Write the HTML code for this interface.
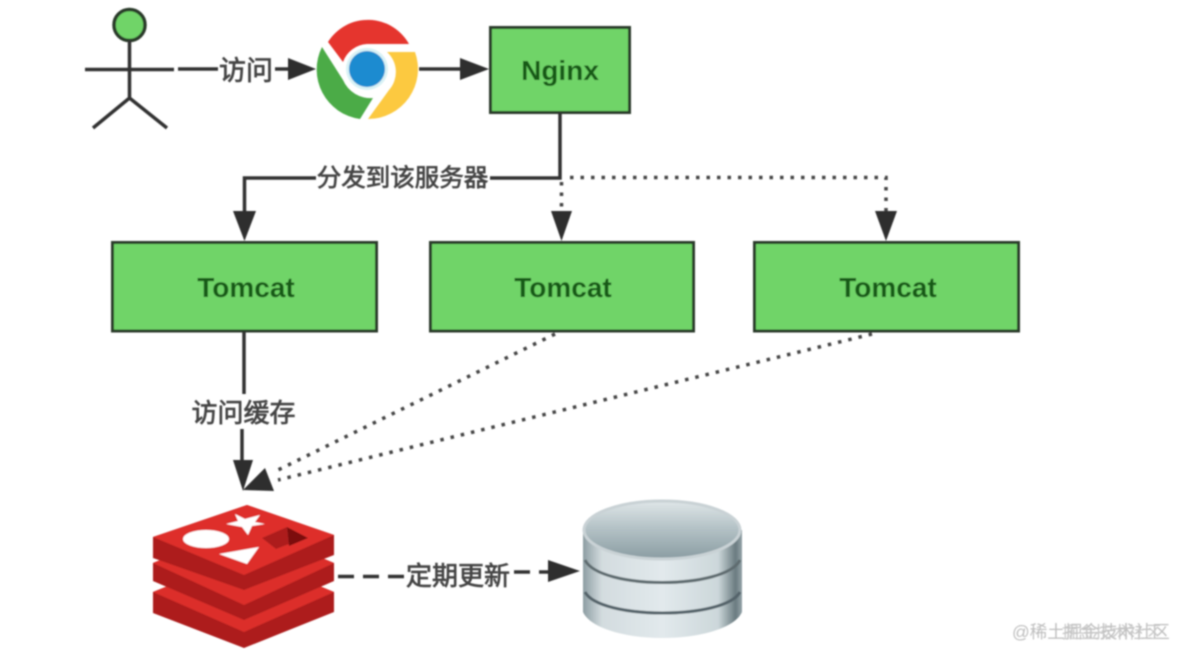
<!DOCTYPE html>
<html><head><meta charset="utf-8">
<style>
html,body{margin:0;padding:0;background:#fff;width:1178px;height:649px;overflow:hidden}
svg{display:block}
text{font-family:"Liberation Sans","Noto Sans CJK SC",sans-serif}
.box{fill:#6fd468;stroke:#2a3a2a;stroke-width:3}
.ln{fill:none;stroke:#333;stroke-width:3.5}
.dot{fill:none;stroke:#444;stroke-width:3.5;stroke-dasharray:3.5 7}
.ah{fill:#2d2d2d}
.lb{font-size:26px;fill:#444;stroke:#444;stroke-width:.7;text-anchor:middle}
.bt{font-size:28px;font-weight:bold;fill:#175a17;text-anchor:middle}
</style></head><body>
<svg width="1178" height="649" viewBox="0 0 1178 649" xmlns="http://www.w3.org/2000/svg">
<defs>
<filter id="b" x="-5%" y="-5%" width="110%" height="110%"><feGaussianBlur stdDeviation="0.9"/></filter>
<linearGradient id="dbTop" x1="0" y1="0" x2="0" y2="1"><stop offset="0" stop-color="#dfe6e8"/><stop offset=".45" stop-color="#b5c3c7"/><stop offset="1" stop-color="#8a9ca2"/></linearGradient>
<linearGradient id="dbSide" x1="0" y1="0" x2="1" y2="0"><stop offset="0" stop-color="#8d9da2"/><stop offset=".12" stop-color="#d3dcdf"/><stop offset=".5" stop-color="#e2e9ec"/><stop offset=".85" stop-color="#ccd7da"/><stop offset=".96" stop-color="#6a7b80"/><stop offset="1" stop-color="#93a3a8"/></linearGradient>
</defs>
<g filter="url(#b)">
<!-- actor -->
<circle cx="129.500" cy="25" r="15.500" fill="#6fd468" stroke="#2a3a2a" stroke-width="3.500"/>
<path class="ln" d="M129.500 41V98M85 69.500H174M93 128L129.500 98L167 128"/>
<!-- access arrow -->
<path class="ln" d="M178 69H218M275 69H290"/>
<path class="ah" d="M316 69L288 58V80Z"/>
<text class="lb" x="246" y="80" style="font-size:27px">访问</text>
<!-- chrome -->
<path d="M328 42A47 47 0 0 1 409 44L367 44A27 27 0 0 0 343 62Z" fill="#e5352f"/>
<path d="M322 47A50 50 0 0 0 360 119L373 98A30 30 0 0 1 343 80Z" fill="#4cab47"/>
<path d="M387 52H415A50 50 0 0 1 368 119L389 90A27 27 0 0 0 387 52Z" fill="#fcc93f"/>
<circle cx="367" cy="69" r="21" fill="#d9f2f5"/>
<circle cx="367" cy="69" r="18" fill="#1c8bd0"/>
<!-- chrome to nginx -->
<path class="ln" d="M419 69H462"/>
<path class="ah" d="M489 69L460 58V80Z"/>
<rect class="box" x="490.500" y="27.500" width="139" height="85"/>
<text class="bt" x="560" y="80">Nginx</text>
<!-- nginx down -->
<path class="ln" d="M560 113V178H490M316 178H244.500V212"/>
<path class="ah" d="M244.500 241L233 211H256Z"/>
<text class="lb" x="402.500" y="186" style="font-size:24.500px">分发到该服务器</text>
<path class="dot" d="M561.500 182V212"/>
<path class="ah" d="M561.500 241L551 211H572Z"/>
<path class="dot" d="M570 177.500H886V212"/>
<path class="ah" d="M886 241L875 211H897Z"/>
<!-- tomcats -->
<rect class="box" x="112.500" y="242.500" width="264" height="88.500"/>
<rect class="box" x="430.500" y="242.500" width="263" height="88.500"/>
<rect class="box" x="754.500" y="242.500" width="264" height="88.500"/>
<text class="bt" x="246" y="297">Tomcat</text>
<text class="bt" x="563" y="297">Tomcat</text>
<text class="bt" x="888" y="297">Tomcat</text>
<!-- to redis -->
<path class="ln" d="M244 332V394M242 429V462"/>
<path class="ah" d="M243 491L233 460H253Z"/>
<text class="lb" x="243.500" y="422">访问缓存</text>
<path class="dot" d="M555 334L276 471"/>
<path class="dot" d="M872 334L278 480"/>
<path class="ah" d="M243 490L265 468L274 491Z"/>
<!-- redis -->
<path d="M153 592L244 555L334 592V612L244 648L153 613Z" fill="#ad1c1c"/>
<path d="M153 592L244 555L334 592L244 632Z" fill="#dc2e2a"/>
<path d="M153 563L244 525L334 563V581L244 620L153 581Z" fill="#ad1c1c"/>
<path d="M153 563L244 525L334 563L244 605Z" fill="#dc2e2a"/>
<path d="M153 537L247 505L334 535V555L244 590L153 558Z" fill="#ad1c1c"/>
<path d="M153 537L247 505L334 535L244 575Z" fill="#de2f2b"/>
<ellipse cx="206" cy="539" rx="23" ry="9" fill="#fff"/>
<path d="M235 514L245 519L260 515L255 522L265 524L252 526L248 535L242 527L226 524L238 521Z" fill="#fff"/>
<path d="M219 554L259 547L247 564Z" fill="#fff"/>
<path d="M262 538L287 527L289 544L276 549Z" fill="#ad1f1f"/>
<path d="M287 527L308 538L289 546Z" fill="#7c0f0f"/>
<!-- dash arrow -->
<path class="ln" d="M338 576.500H406M514 572H552" stroke-dasharray="16 9"/>
<path class="ah" d="M580 571L548 560V582Z"/>
<text class="lb" x="458" y="585">定期更新</text>
<!-- db -->
<path d="M583 530V612C590 628 625 638 662 638C700 638 735 628 742 612V530Z" fill="url(#dbSide)"/>
<ellipse cx="662" cy="530" rx="78" ry="29" fill="url(#dbTop)" stroke="#c9d2d5" stroke-width="3"/>
<path d="M585 560C600 590 725 590 740 560" fill="none" stroke="#5e6c70" stroke-width="3"/>
<path d="M585 592C600 620 725 620 740 592" fill="none" stroke="#55646a" stroke-width="3"/>
<!-- watermark -->
<text x="1012" y="638" font-size="17.500" fill="#bdbdbd">@稀土掘金技术社区</text>
<text x="1062" y="638" font-size="16.500" fill="#c6c6c6">掘金技术社区</text>
</g>
</svg>
</body></html>
